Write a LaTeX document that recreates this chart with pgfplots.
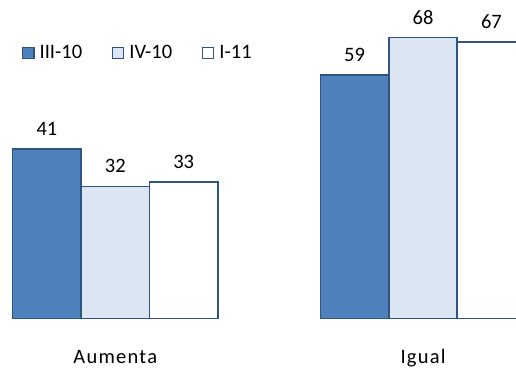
\documentclass[border=0pt]{standalone}
\usepackage{fontspec}
\setmainfont{Carlito}
\usepackage{pgfplots}
\pgfplotsset{compat=1.18}
\definecolor{cdark}{RGB}{79,129,189}
\definecolor{clight}{RGB}{220,230,242}
\definecolor{cborder}{RGB}{46,84,132}
\begin{document}
\begin{tikzpicture}
\begin{axis}[
  scale only axis, width=516pt, height=368pt,
  xmin=-0.3747, xmax=1.3022, ymin=-12, ymax=77.1,
  ybar=0pt, bar width=68.4pt,
  clip=true,
  axis line style={draw=none},
  major tick length=0pt,
  ytick=\empty,
  xtick={0,1}, xticklabels={Aumenta,Igual},
  xticklabel style={font=\fontsize{20.5}{24}\selectfont\addfontfeature{LetterSpace=6}, anchor=base, yshift=5pt},
  xticklabel shift=0pt,
  /pgf/number format/assume math mode=true,
  nodes near coords,
  every node near coord/.append style={font=\fontsize{20.5}{24}\selectfont, anchor=base, yshift=13.5pt, text=black},
  legend image code/.code={\draw[#1, line width=1.2pt] (0pt,-5.5pt) rectangle (11.5pt,5.5pt);},
  legend style={at={(axis cs:-0.304,64.3)}, anchor=west, draw=none, fill=none, inner sep=0pt,
    font=\fontsize{20.5}{24}\selectfont, legend columns=3,
    /tikz/every odd column/.append style={column sep=3pt},
    /tikz/every even column/.append style={column sep=27.5pt}},
]
\addplot[fill=cdark, draw=cborder, line width=1.5pt] coordinates {(0,41) (1,59)};
\addplot[fill=clight, draw=cborder, line width=1.5pt] coordinates {(0,32) (1,68)};
\addplot[fill=white, draw=cborder, line width=1.5pt] coordinates {(0,33) (1,67)};
\legend{III-10,IV-10,I-11}
\end{axis}
\end{tikzpicture}
\end{document}
